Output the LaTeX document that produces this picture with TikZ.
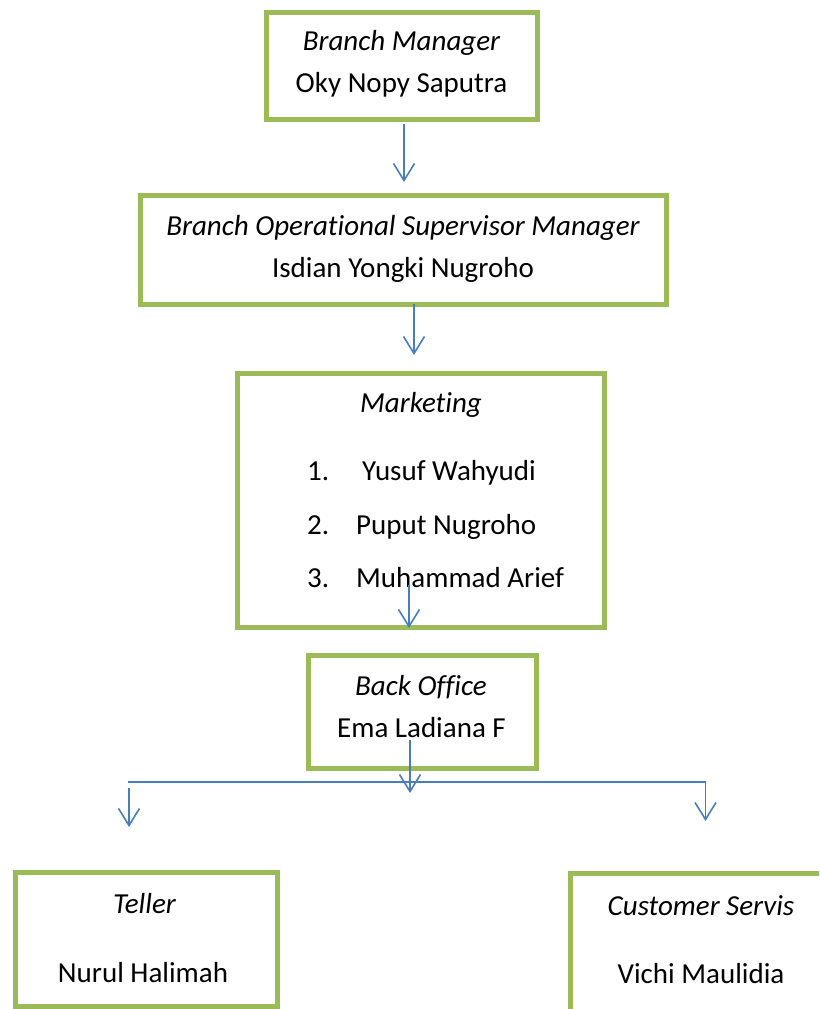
\documentclass[tikz,border=0pt]{standalone}
\usepackage{fontspec}
\setmainfont{Carlito}[Ligatures={NoCommon}]
\usetikzlibrary{arrows.meta}
\definecolor{boxgreen}{HTML}{9BBB59}
\definecolor{arrowblue}{HTML}{4A7EBB}
\begin{document}
\begin{tikzpicture}[x=1pt,y=-1pt,
  orgbox/.style={draw=boxgreen, line width=5pt, rectangle, inner sep=0pt},
  txt/.style={inner sep=0pt, anchor=base, font=\fontsize{29}{35}\selectfont},
  ttl/.style={txt, font=\fontsize{29}{35}\selectfont\itshape},
  lst/.style={inner sep=0pt, anchor=base west, font=\fontsize{29}{35}\selectfont},
  conn/.style={draw=arrowblue, line width=1.6pt},
  arr/.style={conn, -{Straight Barb[length=17pt,width=21pt]}}]
\useasboundingbox (0,0) rectangle (819,1009);
\clip (0,0) rectangle (819,1009);
% boxes
\node[orgbox, minimum width=271pt, minimum height=107pt] (bm) at (401.5,66) {};
\node[orgbox, minimum width=526pt, minimum height=109pt] (bos) at (403,249.5) {};
\node[orgbox, minimum width=367pt, minimum height=254pt] (mkt) at (420.5,500) {};
\node[orgbox, minimum width=228pt, minimum height=113pt] (bo) at (422,711.5) {};
\node[orgbox, minimum width=262pt, minimum height=134pt] (tel) at (146,939) {};
\node[orgbox, minimum width=300pt, minimum height=200pt] (cs) at (720,973) {};
% texts
\node[ttl] (bmt) at (401.5,50) {Branch Manager};
\node[txt] (bmn) at (401.5,92) {Oky Nopy Saputra};
\node[ttl] (bost) at (403,235) {Branch Operational Supervisor Manager};
\node[txt] (bosn) at (403,277) {Isdian Yongki Nugroho};
\node[ttl] (mktt) at (421,412) {Marketing};
\node[lst] (n1) at (307,480) {1.};
\node[lst] (m1) at (362,480) {Yusuf Wahyudi};
\node[lst] (n2) at (307,534) {2.};
\node[lst] (m2) at (356,534) {Puput Nugroho};
\node[lst] (n3) at (307,587) {3.};
\node[lst] (m3) at (356,587) {Muhammad Arief};
\node[ttl] (bot) at (421,695) {Back Office};
\node[txt] (bon) at (421.5,737) {Ema Ladiana F};
\node[ttl] (telt) at (144.5,913) {Teller};
\node[txt] (teln) at (143,982) {Nurul Halimah};
\node[ttl] (cst) at (701,915) {Customer Servis};
\node[txt] (csn) at (701,983) {Vichi Maulidia};
% connector coordinates
\coordinate (a1s) at (404,124);
\coordinate (a1e) at (404,182);
\coordinate (a2s) at (414,304);
\coordinate (a2e) at (414,355);
\coordinate (a3s) at (409,585);
\coordinate (a3e) at (409,628);
\coordinate (a4s) at (410,740);
\coordinate (a4e) at (410,793);
\coordinate (hl) at (128,782);
\coordinate (hr) at (705.5,782);
\coordinate (lts) at (129,788);
\coordinate (lte) at (129,827);
\coordinate (rte) at (705.5,821);
% connectors
\draw[arr] (a1s) -- (a1e);
\draw[arr] (a2s) -- (a2e);
\draw[arr] (a3s) -- (a3e);
\draw[arr] (a4s) -- (a4e);
\draw[conn] (hl) -- (hr);
\draw[arr] (hr) -- (rte);
\draw[arr] (lts) -- (lte);
\end{tikzpicture}
\end{document}
